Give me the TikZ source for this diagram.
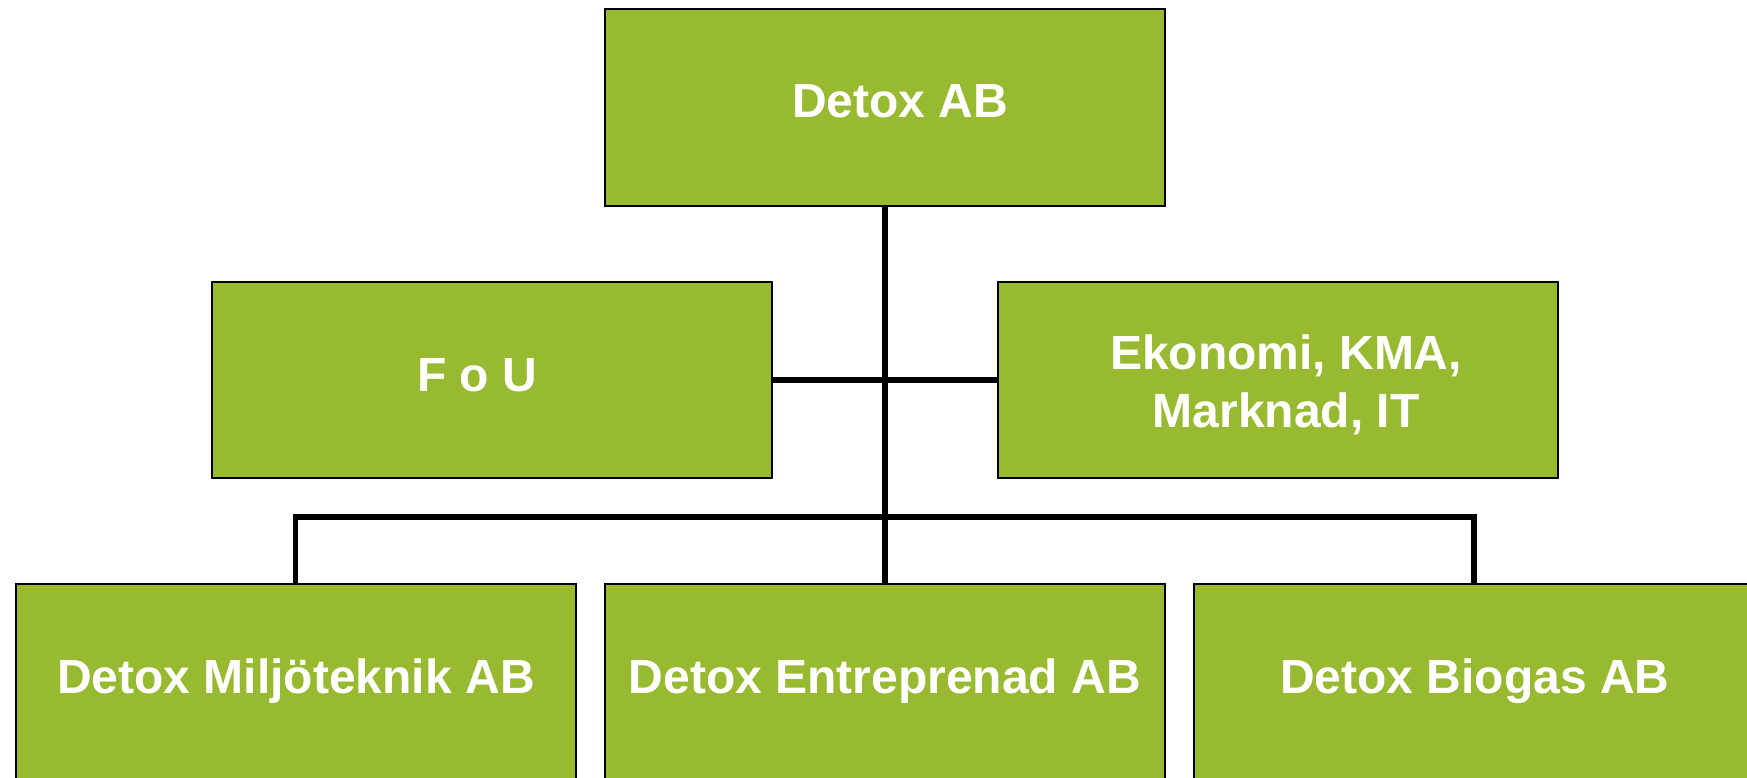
\documentclass[tikz,border=0pt]{standalone}
\usepackage{fontspec}
\setmainfont{Liberation Sans}
\definecolor{boxgreen}{RGB}{152,186,48}
\begin{document}
\begin{tikzpicture}[x=1pt,y=-1pt,
  orgbox/.style={draw=black,line width=2pt,fill=boxgreen,rectangle,inner sep=0pt,
    minimum width=560pt,minimum height=196pt},
  lbl/.style={text=white,font=\fontsize{48}{58}\selectfont\bfseries,inner sep=0pt,anchor=base,align=center},
  conn/.style={draw=black,line width=5.5pt}]
\useasboundingbox (0,0) rectangle (1747,778);
\clip (0,0) rectangle (1747,778);
% connectors (drawn first, boxes cover their ends)
\coordinate (top0) at (885,107.5);
\coordinate (bus) at (886,517);
% boxes
\node[orgbox] (top) at (885,107.5) {};
\node[orgbox] (fou) at (492,380) {};
\node[orgbox] (eko) at (1278,380) {};
\node[orgbox] (milj) at (295.5,682) {};
\node[orgbox] (entr) at (885,682) {};
\node[orgbox] (bio) at (1474,682) {};
\draw[conn] (top.south) -- (entr.north);
\draw[conn] (fou.east) -- (eko.west);
\draw[conn] (milj.north) |- (bus) -| (bio.north);
% labels
\node[lbl] (tTop) at (900,118) {Detox AB};
\node[lbl] (tFou) at (477,391) {F o U};
\node[lbl,anchor=north] (tEko) at (1286,335) {Ekonomi, KMA,\\Marknad, IT};
\node[lbl] (tMilj) at (296,693) {Detox Miljöteknik AB};
\node[lbl] (tEntr) at (885,693) {Detox Entreprenad AB};
\node[lbl] (tBio) at (1475,693) {Detox Biogas AB};
\end{tikzpicture}
\end{document}
